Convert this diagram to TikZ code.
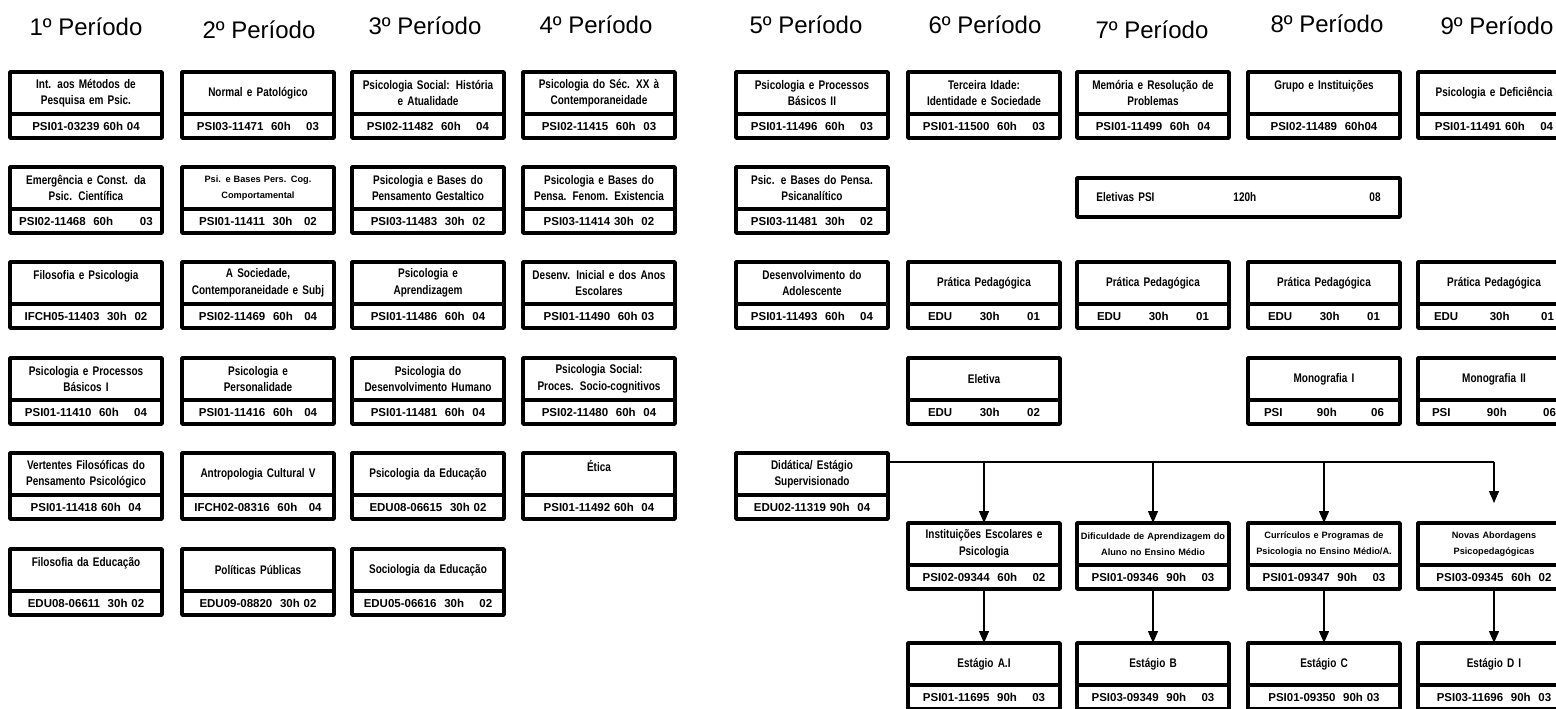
\documentclass[tikz,border=0pt]{standalone}
\usepackage{fontspec}
\setmainfont{Liberation Sans}
\newfontfamily\boxfont{Liberation Sans}[FakeStretch=0.8]
\newfontfamily\codefont{Liberation Sans}
\usepackage{tikz}
\usetikzlibrary{positioning,arrows.meta}
\tikzstyle{period} = [font=\fontsize{24}{28}\selectfont, anchor=base]
\tikzstyle{subj} = [rectangle, draw, line width=3.5pt, line join=round, outer sep=0pt,
                    minimum width=152pt, minimum height=42pt, text width=148pt,
                    inner sep=0.5pt, align=center, anchor=north,
                    font=\boxfont\bfseries\fontsize{12.5}{16.5}\selectfont]
\tikzstyle{subjcode} = [subj, minimum height=24pt, font=\codefont\bfseries\fontsize{11.5}{14}\selectfont]
\tikzstyle{smalltext} = [font=\codefont\bfseries\fontsize{9.2}{16}\selectfont]
\tikzstyle{wide} = [subj, anchor=center, minimum width=323pt, minimum height=39pt, text width=300pt]
\tikzstyle{link} = [draw, line width=1.3pt]
\tikzstyle{flow} = [link, -{Triangle[width=10pt,length=12pt]}]
\newcommand{\course}[4][]{%
  \node[subj,#1] (#2) {#3};
  \node[subjcode, below=0pt of #2] (#2-cod) {#4};
}
\newcommand{\spread}[4]{\makebox[#1]{#2\hfill #3\hfill #4}}
\begin{document}
\begin{tikzpicture}[x=1pt,y=-1pt]
\useasboundingbox (0,0) rectangle (1556,709);
% period headings
\node[period] (h1) at (86,36) {1º Período};
\node[period] (h2) at (259,39) {2º Período};
\node[period] (h3) at (425,35) {3º Período};
\node[period] (h4) at (596,34) {4º Período};
\node[period] (h5) at (806,34) {5º Período};
\node[period] (h6) at (985,34) {6º Período};
\node[period] (h7) at (1152,39) {7º Período};
\node[period] (h8) at (1327,33) {8º Período};
\node[period] (h9) at (1497,35) {9º Período};

% 1o periodo
\course[at={(86,72)}]{p1a}{Int. aos Métodos de\\ Pesquisa em Psic.}{PSI01-03239 60h 04}
\course[below=29pt of p1a-cod]{p1b}{Emergência e Const. da\\ Psic. Científica}{PSI02-11468 \ 60h \qquad 03}
\course[below=29pt of p1b-cod]{p1c}{Filosofia e Psicologia\\ \mbox{}}{IFCH05-11403 \ 30h \ 02}
\course[below=30pt of p1c-cod]{p1d}{Psicologia e Processos\\ Básicos I}{PSI01-11410 \ 60h \quad 04}
\course[below=29pt of p1d-cod]{p1e}{Vertentes Filosóficas do\\ Pensamento Psicológico}{PSI01-11418 60h \ 04}
\course[below=30pt of p1e-cod]{p1f}{Filosofia da Educação\\ \mbox{}}{EDU08-06611 \ 30h 02}

% 2o periodo
\course[at={(258,72)}]{p2a}{Normal e Patológico}{PSI03-11471 \ 60h \quad 03}
\course[below=29pt of p2a-cod, smalltext]{p2b}{Psi. e Bases Pers. Cog.\\ Comportamental}{PSI01-11411 \ 30h \ \ 02}
\course[below=29pt of p2b-cod]{p2c}{A Sociedade,\\ Contemporaneidade e Subj}{PSI02-11469 \ 60h \ \ 04}
\course[below=30pt of p2c-cod]{p2d}{Psicologia e\\ Personalidade}{PSI01-11416 \ 60h \ \ 04}
\course[below=29pt of p2d-cod]{p2e}{Antropologia Cultural V}{IFCH02-08316 \ 60h \ \ 04}
\course[below=30pt of p2e-cod]{p2f}{Políticas Públicas}{EDU09-08820 \ 30h 02}

% 3o periodo
\course[at={(428,72)}]{p3a}{Psicologia Social: História\\ e Atualidade}{PSI02-11482 \ 60h \quad 04}
\course[below=29pt of p3a-cod]{p3b}{Psicologia e Bases do\\ Pensamento Gestaltico}{PSI03-11483 \ 30h \ 02}
\course[below=29pt of p3b-cod]{p3c}{Psicologia e\\ Aprendizagem}{PSI01-11486 \ 60h \ 04}
\course[below=30pt of p3c-cod]{p3d}{Psicologia do\\ Desenvolvimento Humano}{PSI01-11481 \ 60h \ 04}
\course[below=29pt of p3d-cod]{p3e}{Psicologia da Educação}{EDU08-06615 \ 30h 02}
\course[below=30pt of p3e-cod]{p3f}{Sociologia da Educação}{EDU05-06616 \ 30h \quad 02}

% 4o periodo
\course[at={(599,72)}]{p4a}{Psicologia do Séc. XX à\\ Contemporaneidade}{PSI02-11415 \ 60h \ 03}
\course[below=29pt of p4a-cod]{p4b}{Psicologia e Bases do\\ Pensa. Fenom. Existencia}{PSI03-11414 30h \ 02}
\course[below=29pt of p4b-cod]{p4c}{Desenv. Inicial e dos Anos\\ Escolares}{PSI01-11490 \ 60h 03}
\course[below=30pt of p4c-cod]{p4d}{Psicologia Social:\\ Proces. Socio-cognitivos}{PSI02-11480 \ 60h \ 04}
\course[below=29pt of p4d-cod]{p4e}{Ética\\ \mbox{}}{PSI01-11492 60h \ 04}

% 5o periodo
\course[at={(812,72)}]{p5a}{Psicologia e Processos\\ Básicos II}{PSI01-11496 \ 60h \quad 03}
\course[below=29pt of p5a-cod]{p5b}{Psic. e Bases do Pensa.\\ Psicanalítico}{PSI03-11481 \ 30h \quad 02}
\course[below=29pt of p5b-cod]{p5c}{Desenvolvimento do\\ Adolescente}{PSI01-11493 \ 60h \quad 04}
\course[below=125pt of p5c-cod]{p5d}{Didática/ Estágio\\ Supervisionado}{EDU02-11319 90h \ 04}

% 6o periodo
\course[at={(984,72)}]{p6a}{Terceira Idade:\\ Identidade e Sociedade}{PSI01-11500 \ 60h \quad 03}
\course[below=124pt of p6a-cod]{p6b}{Prática Pedagógica}{\spread{112pt}{EDU}{30h}{01}}
\course[below=30pt of p6b-cod]{p6c}{Eletiva}{\spread{112pt}{EDU}{30h}{02}}
\course[at={(984,523)}]{p6i}{Instituições Escolares e\\ Psicologia}{PSI02-09344 \ 60h \quad 02}
\course[below=54pt of p6i-cod]{p6e}{Estágio A.I}{PSI01-11695 \ 90h \quad 03}

% 7o periodo
\course[at={(1153,72)}]{p7a}{Memória e Resolução de\\ Problemas}{PSI01-11499 \ 60h \ 04}
\node[wide] (elet) at (1238.5,197.5) {\makebox[137pt][l]{Eletivas PSI}\makebox[136pt][l]{120h}08};
\course[below=124pt of p7a-cod]{p7b}{Prática Pedagógica}{\spread{112pt}{EDU}{30h}{01}}
\course[at={(1153,523)}, smalltext]{p7i}{Dificuldade de Aprendizagem do\\ Aluno no Ensino Médio}{PSI01-09346 \ 90h \quad 03}
\course[below=54pt of p7i-cod]{p7e}{Estágio B}{PSI03-09349 \ 90h \quad 03}

% 8o periodo
\course[at={(1324,72)}]{p8a}{Grupo e Instituições\\ \mbox{}}{PSI02-11489 \ 60h04}
\course[below=124pt of p8a-cod]{p8b}{Prática Pedagógica}{\spread{112pt}{EDU}{30h}{01}}
\course[below=30pt of p8b-cod]{p8c}{Monografia I}{\spread{120pt}{PSI}{90h}{06}}
\course[at={(1324,523)}, smalltext]{p8i}{Currículos e Programas de\\ Psicologia no Ensino Médio/A.}{PSI01-09347 \ 90h \quad 03}
\course[below=54pt of p8i-cod]{p8e}{Estágio C}{PSI01-09350 \ 90h 03}

% 9o periodo
\course[at={(1494,72)}]{p9a}{Psicologia e Deficiência}{PSI01-11491 60h \quad 04}
\course[below=124pt of p9a-cod]{p9b}{Prática Pedagógica}{\spread{120pt}{EDU}{30h}{01}}
\course[below=30pt of p9b-cod]{p9c}{Monografia II}{\spread{124pt}{PSI}{90h}{06}}
\course[at={(1494,523)}, smalltext]{p9i}{Novas Abordagens\\ Psicopedagógicas}{PSI03-09345 \ 60h \ 02}
\course[below=54pt of p9i-cod]{p9e}{Estágio D I}{PSI03-11696 \ 90h \ 03}

% estagio supervisionado
\coordinate (bus) at (1494,462);
\draw[link] (p5d.east |- bus) -- (bus);
\foreach \n in {6,7,8}
  \draw[flow] (p\n i.north |- bus) -- (p\n i);
\draw[flow, shorten >=20pt] (bus) -- (p9i);
\foreach \n in {6,...,9}
  \draw[flow] (p\n i-cod) -- (p\n e);
\end{tikzpicture}
\end{document}
